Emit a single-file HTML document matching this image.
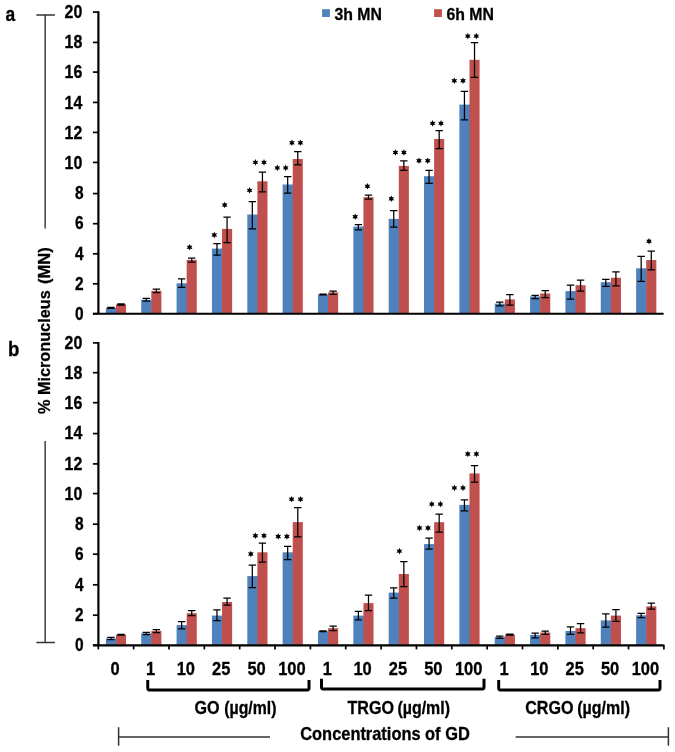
<!DOCTYPE html>
<html><head><meta charset="utf-8"><title>Micronucleus chart</title>
<style>html,body{margin:0;padding:0;background:#fff;}svg{display:block;filter:blur(0.45px);}text{font-family:"Liberation Sans",sans-serif;font-weight:bold;fill:#000;stroke:#000;stroke-width:0.3px;}</style>
</head><body>
<svg width="675" height="752" viewBox="0 0 675 752">
<rect x="0" y="0" width="675" height="752" fill="#ffffff"/>
<rect x="105.88" y="307.90" width="10.70" height="5.30" fill="#4f81bd"/>
<rect x="115.97" y="304.40" width="10.10" height="8.80" fill="#c0504d"/>
<rect x="141.22" y="299.70" width="10.70" height="13.50" fill="#4f81bd"/>
<rect x="151.32" y="290.80" width="10.10" height="22.40" fill="#c0504d"/>
<rect x="176.58" y="283.30" width="10.70" height="29.90" fill="#4f81bd"/>
<rect x="186.68" y="259.90" width="10.10" height="53.30" fill="#c0504d"/>
<rect x="211.93" y="248.60" width="10.70" height="64.60" fill="#4f81bd"/>
<rect x="222.03" y="228.90" width="10.10" height="84.30" fill="#c0504d"/>
<rect x="247.28" y="214.50" width="10.70" height="98.70" fill="#4f81bd"/>
<rect x="257.38" y="181.30" width="10.10" height="131.90" fill="#c0504d"/>
<rect x="282.62" y="184.50" width="10.70" height="128.70" fill="#4f81bd"/>
<rect x="292.73" y="159.00" width="10.10" height="154.20" fill="#c0504d"/>
<rect x="317.97" y="294.40" width="10.70" height="18.80" fill="#4f81bd"/>
<rect x="328.07" y="292.40" width="10.10" height="20.80" fill="#c0504d"/>
<rect x="353.32" y="226.60" width="10.70" height="86.60" fill="#4f81bd"/>
<rect x="363.43" y="197.20" width="10.10" height="116.00" fill="#c0504d"/>
<rect x="388.68" y="218.90" width="10.70" height="94.30" fill="#4f81bd"/>
<rect x="398.78" y="165.90" width="10.10" height="147.30" fill="#c0504d"/>
<rect x="424.02" y="176.20" width="10.70" height="137.00" fill="#4f81bd"/>
<rect x="434.12" y="139.00" width="10.10" height="174.20" fill="#c0504d"/>
<rect x="459.38" y="104.60" width="10.70" height="208.60" fill="#4f81bd"/>
<rect x="469.48" y="59.80" width="10.10" height="253.40" fill="#c0504d"/>
<rect x="494.73" y="303.60" width="10.70" height="9.60" fill="#4f81bd"/>
<rect x="504.83" y="299.40" width="10.10" height="13.80" fill="#c0504d"/>
<rect x="530.07" y="296.40" width="10.70" height="16.80" fill="#4f81bd"/>
<rect x="540.17" y="293.50" width="10.10" height="19.70" fill="#c0504d"/>
<rect x="565.42" y="291.10" width="10.70" height="22.10" fill="#4f81bd"/>
<rect x="575.52" y="285.20" width="10.10" height="28.00" fill="#c0504d"/>
<rect x="600.77" y="282.20" width="10.70" height="31.00" fill="#4f81bd"/>
<rect x="610.88" y="277.80" width="10.10" height="35.40" fill="#c0504d"/>
<rect x="636.12" y="268.30" width="10.70" height="44.90" fill="#4f81bd"/>
<rect x="646.23" y="260.00" width="10.10" height="53.20" fill="#c0504d"/>
<path d="M110.92 307.40V308.40M107.22 307.40H114.62M107.22 308.40H114.62" stroke="#000" stroke-width="1.25" fill="none"/>
<path d="M121.02 303.80V305.00M117.32 303.80H124.72M117.32 305.00H124.72" stroke="#000" stroke-width="1.25" fill="none"/>
<path d="M146.27 298.30V301.00M142.57 298.30H149.97M142.57 301.00H149.97" stroke="#000" stroke-width="1.25" fill="none"/>
<path d="M156.38 289.10V292.50M152.68 289.10H160.07M152.68 292.50H160.07" stroke="#000" stroke-width="1.25" fill="none"/>
<path d="M181.62 278.90V287.40M177.93 278.90H185.32M177.93 287.40H185.32" stroke="#000" stroke-width="1.25" fill="none"/>
<path d="M191.73 258.10V262.00M188.03 258.10H195.43M188.03 262.00H195.43" stroke="#000" stroke-width="1.25" fill="none"/>
<path d="M216.97 243.70V255.20M213.28 243.70H220.67M213.28 255.20H220.67" stroke="#000" stroke-width="1.25" fill="none"/>
<path d="M227.08 217.00V242.70M223.38 217.00H230.78M223.38 242.70H230.78" stroke="#000" stroke-width="1.25" fill="none"/>
<path d="M252.32 201.50V228.80M248.62 201.50H256.02M248.62 228.80H256.02" stroke="#000" stroke-width="1.25" fill="none"/>
<path d="M262.43 172.10V191.80M258.73 172.10H266.12M258.73 191.80H266.12" stroke="#000" stroke-width="1.25" fill="none"/>
<path d="M287.68 176.70V193.00M283.98 176.70H291.38M283.98 193.00H291.38" stroke="#000" stroke-width="1.25" fill="none"/>
<path d="M297.78 151.50V164.80M294.08 151.50H301.48M294.08 164.80H301.48" stroke="#000" stroke-width="1.25" fill="none"/>
<path d="M323.02 294.00V294.80M319.32 294.00H326.72M319.32 294.80H326.72" stroke="#000" stroke-width="1.25" fill="none"/>
<path d="M333.12 291.20V294.40M329.43 291.20H336.82M329.43 294.40H336.82" stroke="#000" stroke-width="1.25" fill="none"/>
<path d="M358.38 224.60V229.80M354.68 224.60H362.07M354.68 229.80H362.07" stroke="#000" stroke-width="1.25" fill="none"/>
<path d="M368.48 195.10V199.10M364.78 195.10H372.18M364.78 199.10H372.18" stroke="#000" stroke-width="1.25" fill="none"/>
<path d="M393.73 210.60V227.00M390.03 210.60H397.43M390.03 227.00H397.43" stroke="#000" stroke-width="1.25" fill="none"/>
<path d="M403.83 160.80V170.30M400.13 160.80H407.53M400.13 170.30H407.53" stroke="#000" stroke-width="1.25" fill="none"/>
<path d="M429.07 170.30V183.30M425.38 170.30H432.77M425.38 183.30H432.77" stroke="#000" stroke-width="1.25" fill="none"/>
<path d="M439.18 130.70V148.60M435.48 130.70H442.88M435.48 148.60H442.88" stroke="#000" stroke-width="1.25" fill="none"/>
<path d="M464.43 91.40V119.80M460.73 91.40H468.12M460.73 119.80H468.12" stroke="#000" stroke-width="1.25" fill="none"/>
<path d="M474.53 42.70V77.40M470.83 42.70H478.23M470.83 77.40H478.23" stroke="#000" stroke-width="1.25" fill="none"/>
<path d="M499.78 302.10V305.90M496.08 302.10H503.48M496.08 305.90H503.48" stroke="#000" stroke-width="1.25" fill="none"/>
<path d="M509.88 294.70V305.00M506.18 294.70H513.58M506.18 305.00H513.58" stroke="#000" stroke-width="1.25" fill="none"/>
<path d="M535.12 295.30V298.50M531.42 295.30H538.83M531.42 298.50H538.83" stroke="#000" stroke-width="1.25" fill="none"/>
<path d="M545.22 290.50V297.60M541.52 290.50H548.92M541.52 297.60H548.92" stroke="#000" stroke-width="1.25" fill="none"/>
<path d="M570.48 285.20V299.10M566.77 285.20H574.18M566.77 299.10H574.18" stroke="#000" stroke-width="1.25" fill="none"/>
<path d="M580.57 280.10V291.10M576.87 280.10H584.27M576.87 291.10H584.27" stroke="#000" stroke-width="1.25" fill="none"/>
<path d="M605.83 279.30V286.40M602.12 279.30H609.53M602.12 286.40H609.53" stroke="#000" stroke-width="1.25" fill="none"/>
<path d="M615.92 271.90V285.80M612.22 271.90H619.62M612.22 285.80H619.62" stroke="#000" stroke-width="1.25" fill="none"/>
<path d="M641.18 256.40V281.30M637.48 256.40H644.88M637.48 281.30H644.88" stroke="#000" stroke-width="1.25" fill="none"/>
<path d="M651.27 251.10V269.80M647.57 251.10H654.98M647.57 269.80H654.98" stroke="#000" stroke-width="1.25" fill="none"/>
<path d="M98.4 11.30V314.10" stroke="#000" stroke-width="2.2" fill="none"/>
<path d="M92.9 313.80H663.6" stroke="#000" stroke-width="2.1" fill="none"/>
<path d="M92.9 313.70H98.4" stroke="#000" stroke-width="1.7" fill="none"/>
<text transform="translate(83.50 320.20) scale(0.86 1)" font-size="18.0" text-anchor="end">0</text>
<path d="M92.9 283.80H98.4" stroke="#000" stroke-width="1.7" fill="none"/>
<text transform="translate(83.50 289.96) scale(0.86 1)" font-size="18.0" text-anchor="end">2</text>
<path d="M92.9 253.80H98.4" stroke="#000" stroke-width="1.7" fill="none"/>
<text transform="translate(83.50 259.72) scale(0.86 1)" font-size="18.0" text-anchor="end">4</text>
<path d="M92.9 223.70H98.4" stroke="#000" stroke-width="1.7" fill="none"/>
<text transform="translate(83.50 229.48) scale(0.86 1)" font-size="18.0" text-anchor="end">6</text>
<path d="M92.9 193.60H98.4" stroke="#000" stroke-width="1.7" fill="none"/>
<text transform="translate(83.50 199.24) scale(0.86 1)" font-size="18.0" text-anchor="end">8</text>
<path d="M92.9 162.40H98.4" stroke="#000" stroke-width="1.7" fill="none"/>
<text transform="translate(82.30 169.00) scale(0.885 1)" font-size="18.0" text-anchor="end">10</text>
<path d="M92.9 132.40H98.4" stroke="#000" stroke-width="1.7" fill="none"/>
<text transform="translate(82.30 138.76) scale(0.885 1)" font-size="18.0" text-anchor="end">12</text>
<path d="M92.9 102.40H98.4" stroke="#000" stroke-width="1.7" fill="none"/>
<text transform="translate(82.30 108.52) scale(0.885 1)" font-size="18.0" text-anchor="end">14</text>
<path d="M92.9 72.10H98.4" stroke="#000" stroke-width="1.7" fill="none"/>
<text transform="translate(82.30 78.28) scale(0.885 1)" font-size="18.0" text-anchor="end">16</text>
<path d="M92.9 42.40H98.4" stroke="#000" stroke-width="1.7" fill="none"/>
<text transform="translate(82.30 48.04) scale(0.885 1)" font-size="18.0" text-anchor="end">18</text>
<path d="M92.9 12.10H98.4" stroke="#000" stroke-width="1.7" fill="none"/>
<text transform="translate(82.30 17.80) scale(0.885 1)" font-size="18.0" text-anchor="end">20</text>
<rect x="105.88" y="638.40" width="10.70" height="6.40" fill="#4f81bd"/>
<rect x="115.97" y="634.70" width="10.10" height="10.10" fill="#c0504d"/>
<rect x="141.22" y="633.30" width="10.70" height="11.50" fill="#4f81bd"/>
<rect x="151.32" y="630.90" width="10.10" height="13.90" fill="#c0504d"/>
<rect x="176.58" y="625.10" width="10.70" height="19.70" fill="#4f81bd"/>
<rect x="186.68" y="613.20" width="10.10" height="31.60" fill="#c0504d"/>
<rect x="211.93" y="615.60" width="10.70" height="29.20" fill="#4f81bd"/>
<rect x="222.03" y="602.00" width="10.10" height="42.80" fill="#c0504d"/>
<rect x="247.28" y="576.10" width="10.70" height="68.70" fill="#4f81bd"/>
<rect x="257.38" y="552.30" width="10.10" height="92.50" fill="#c0504d"/>
<rect x="282.62" y="552.30" width="10.70" height="92.50" fill="#4f81bd"/>
<rect x="292.73" y="522.10" width="10.10" height="122.70" fill="#c0504d"/>
<rect x="317.97" y="631.20" width="10.70" height="13.60" fill="#4f81bd"/>
<rect x="328.07" y="628.20" width="10.10" height="16.60" fill="#c0504d"/>
<rect x="353.32" y="615.60" width="10.70" height="29.20" fill="#4f81bd"/>
<rect x="363.43" y="603.10" width="10.10" height="41.70" fill="#c0504d"/>
<rect x="388.68" y="592.60" width="10.70" height="52.20" fill="#4f81bd"/>
<rect x="398.78" y="574.00" width="10.10" height="70.80" fill="#c0504d"/>
<rect x="424.02" y="544.10" width="10.70" height="100.70" fill="#4f81bd"/>
<rect x="434.12" y="522.20" width="10.10" height="122.60" fill="#c0504d"/>
<rect x="459.38" y="504.90" width="10.70" height="139.90" fill="#4f81bd"/>
<rect x="469.48" y="473.40" width="10.10" height="171.40" fill="#c0504d"/>
<rect x="494.73" y="637.00" width="10.70" height="7.80" fill="#4f81bd"/>
<rect x="504.83" y="634.60" width="10.10" height="10.20" fill="#c0504d"/>
<rect x="530.07" y="634.90" width="10.70" height="9.90" fill="#4f81bd"/>
<rect x="540.17" y="632.50" width="10.10" height="12.30" fill="#c0504d"/>
<rect x="565.42" y="631.00" width="10.70" height="13.80" fill="#4f81bd"/>
<rect x="575.52" y="628.10" width="10.10" height="16.70" fill="#c0504d"/>
<rect x="600.77" y="620.40" width="10.70" height="24.40" fill="#4f81bd"/>
<rect x="610.88" y="615.60" width="10.10" height="29.20" fill="#c0504d"/>
<rect x="636.12" y="615.30" width="10.70" height="29.50" fill="#4f81bd"/>
<rect x="646.23" y="606.40" width="10.10" height="38.40" fill="#c0504d"/>
<path d="M110.92 637.40V639.50M107.22 637.40H114.62M107.22 639.50H114.62" stroke="#000" stroke-width="1.25" fill="none"/>
<path d="M121.02 634.30V635.10M117.32 634.30H124.72M117.32 635.10H124.72" stroke="#000" stroke-width="1.25" fill="none"/>
<path d="M146.27 632.30V634.70M142.57 632.30H149.97M142.57 634.70H149.97" stroke="#000" stroke-width="1.25" fill="none"/>
<path d="M156.38 629.60V632.60M152.68 629.60H160.07M152.68 632.60H160.07" stroke="#000" stroke-width="1.25" fill="none"/>
<path d="M181.62 621.70V628.90M177.93 621.70H185.32M177.93 628.90H185.32" stroke="#000" stroke-width="1.25" fill="none"/>
<path d="M191.73 610.50V615.60M188.03 610.50H195.43M188.03 615.60H195.43" stroke="#000" stroke-width="1.25" fill="none"/>
<path d="M216.97 609.80V620.70M213.28 609.80H220.67M213.28 620.70H220.67" stroke="#000" stroke-width="1.25" fill="none"/>
<path d="M227.08 598.20V605.00M223.38 598.20H230.78M223.38 605.00H230.78" stroke="#000" stroke-width="1.25" fill="none"/>
<path d="M252.32 565.20V587.70M248.62 565.20H256.02M248.62 587.70H256.02" stroke="#000" stroke-width="1.25" fill="none"/>
<path d="M262.43 543.10V562.00M258.73 543.10H266.12M258.73 562.00H266.12" stroke="#000" stroke-width="1.25" fill="none"/>
<path d="M287.68 546.30V559.60M283.98 546.30H291.38M283.98 559.60H291.38" stroke="#000" stroke-width="1.25" fill="none"/>
<path d="M297.78 507.50V536.90M294.08 507.50H301.48M294.08 536.90H301.48" stroke="#000" stroke-width="1.25" fill="none"/>
<path d="M323.02 630.90V631.50M319.32 630.90H326.72M319.32 631.50H326.72" stroke="#000" stroke-width="1.25" fill="none"/>
<path d="M333.12 626.10V630.60M329.43 626.10H336.82M329.43 630.60H336.82" stroke="#000" stroke-width="1.25" fill="none"/>
<path d="M358.38 611.40V619.80M354.68 611.40H362.07M354.68 619.80H362.07" stroke="#000" stroke-width="1.25" fill="none"/>
<path d="M368.48 595.00V610.50M364.78 595.00H372.18M364.78 610.50H372.18" stroke="#000" stroke-width="1.25" fill="none"/>
<path d="M393.73 587.80V598.00M390.03 587.80H397.43M390.03 598.00H397.43" stroke="#000" stroke-width="1.25" fill="none"/>
<path d="M403.83 561.70V586.60M400.13 561.70H407.53M400.13 586.60H407.53" stroke="#000" stroke-width="1.25" fill="none"/>
<path d="M429.07 538.10V549.20M425.38 538.10H432.77M425.38 549.20H432.77" stroke="#000" stroke-width="1.25" fill="none"/>
<path d="M439.18 514.10V532.10M435.48 514.10H442.88M435.48 532.10H442.88" stroke="#000" stroke-width="1.25" fill="none"/>
<path d="M464.43 499.80V510.80M460.73 499.80H468.12M460.73 510.80H468.12" stroke="#000" stroke-width="1.25" fill="none"/>
<path d="M474.53 465.60V482.10M470.83 465.60H478.23M470.83 482.10H478.23" stroke="#000" stroke-width="1.25" fill="none"/>
<path d="M499.78 636.10V638.40M496.08 636.10H503.48M496.08 638.40H503.48" stroke="#000" stroke-width="1.25" fill="none"/>
<path d="M509.88 634.20V635.00M506.18 634.20H513.58M506.18 635.00H513.58" stroke="#000" stroke-width="1.25" fill="none"/>
<path d="M535.12 633.10V637.90M531.42 633.10H538.83M531.42 637.90H538.83" stroke="#000" stroke-width="1.25" fill="none"/>
<path d="M545.22 631.00V634.30M541.52 631.00H548.92M541.52 634.30H548.92" stroke="#000" stroke-width="1.25" fill="none"/>
<path d="M570.48 626.90V634.30M566.77 626.90H574.18M566.77 634.30H574.18" stroke="#000" stroke-width="1.25" fill="none"/>
<path d="M580.57 623.60V632.80M576.87 623.60H584.27M576.87 632.80H584.27" stroke="#000" stroke-width="1.25" fill="none"/>
<path d="M605.83 613.90V627.20M602.12 613.90H609.53M602.12 627.20H609.53" stroke="#000" stroke-width="1.25" fill="none"/>
<path d="M615.92 609.70V621.30M612.22 609.70H619.62M612.22 621.30H619.62" stroke="#000" stroke-width="1.25" fill="none"/>
<path d="M641.18 613.30V617.70M637.48 613.30H644.88M637.48 617.70H644.88" stroke="#000" stroke-width="1.25" fill="none"/>
<path d="M651.27 603.20V609.10M647.57 603.20H654.98M647.57 609.10H654.98" stroke="#000" stroke-width="1.25" fill="none"/>
<path d="M98.4 342.10V645.70" stroke="#000" stroke-width="2.2" fill="none"/>
<path d="M92.9 645.40H663.6" stroke="#000" stroke-width="2.1" fill="none"/>
<path d="M92.9 645.20H98.4" stroke="#000" stroke-width="1.7" fill="none"/>
<text transform="translate(83.50 651.25) scale(0.86 1)" font-size="18.0" text-anchor="end">0</text>
<path d="M92.9 615.20H98.4" stroke="#000" stroke-width="1.7" fill="none"/>
<text transform="translate(83.50 620.97) scale(0.86 1)" font-size="18.0" text-anchor="end">2</text>
<path d="M92.9 584.80H98.4" stroke="#000" stroke-width="1.7" fill="none"/>
<text transform="translate(83.50 590.70) scale(0.86 1)" font-size="18.0" text-anchor="end">4</text>
<path d="M92.9 554.20H98.4" stroke="#000" stroke-width="1.7" fill="none"/>
<text transform="translate(83.50 560.42) scale(0.86 1)" font-size="18.0" text-anchor="end">6</text>
<path d="M92.9 524.20H98.4" stroke="#000" stroke-width="1.7" fill="none"/>
<text transform="translate(83.50 530.15) scale(0.86 1)" font-size="18.0" text-anchor="end">8</text>
<path d="M92.9 493.60H98.4" stroke="#000" stroke-width="1.7" fill="none"/>
<text transform="translate(82.30 499.88) scale(0.885 1)" font-size="18.0" text-anchor="end">10</text>
<path d="M92.9 463.90H98.4" stroke="#000" stroke-width="1.7" fill="none"/>
<text transform="translate(82.30 469.60) scale(0.885 1)" font-size="18.0" text-anchor="end">12</text>
<path d="M92.9 433.60H98.4" stroke="#000" stroke-width="1.7" fill="none"/>
<text transform="translate(82.30 439.32) scale(0.885 1)" font-size="18.0" text-anchor="end">14</text>
<path d="M92.9 402.70H98.4" stroke="#000" stroke-width="1.7" fill="none"/>
<text transform="translate(82.30 409.05) scale(0.885 1)" font-size="18.0" text-anchor="end">16</text>
<path d="M92.9 372.70H98.4" stroke="#000" stroke-width="1.7" fill="none"/>
<text transform="translate(82.30 378.77) scale(0.885 1)" font-size="18.0" text-anchor="end">18</text>
<path d="M92.9 342.90H98.4" stroke="#000" stroke-width="1.7" fill="none"/>
<text transform="translate(82.30 348.50) scale(0.885 1)" font-size="18.0" text-anchor="end">20</text>
<path d="M98.30 644.80V649.4" stroke="#000" stroke-width="1.7" fill="none"/>
<path d="M133.65 644.80V649.4" stroke="#000" stroke-width="1.7" fill="none"/>
<path d="M169.00 644.80V649.4" stroke="#000" stroke-width="1.7" fill="none"/>
<path d="M204.35 644.80V649.4" stroke="#000" stroke-width="1.7" fill="none"/>
<path d="M239.70 644.80V649.4" stroke="#000" stroke-width="1.7" fill="none"/>
<path d="M275.05 644.80V649.4" stroke="#000" stroke-width="1.7" fill="none"/>
<path d="M310.40 644.80V649.4" stroke="#000" stroke-width="1.7" fill="none"/>
<path d="M345.75 644.80V649.4" stroke="#000" stroke-width="1.7" fill="none"/>
<path d="M381.10 644.80V649.4" stroke="#000" stroke-width="1.7" fill="none"/>
<path d="M416.45 644.80V649.4" stroke="#000" stroke-width="1.7" fill="none"/>
<path d="M451.80 644.80V649.4" stroke="#000" stroke-width="1.7" fill="none"/>
<path d="M487.15 644.80V649.4" stroke="#000" stroke-width="1.7" fill="none"/>
<path d="M522.50 644.80V649.4" stroke="#000" stroke-width="1.7" fill="none"/>
<path d="M557.85 644.80V649.4" stroke="#000" stroke-width="1.7" fill="none"/>
<path d="M593.20 644.80V649.4" stroke="#000" stroke-width="1.7" fill="none"/>
<path d="M628.55 644.80V649.4" stroke="#000" stroke-width="1.7" fill="none"/>
<path d="M663.90 644.80V649.4" stroke="#000" stroke-width="1.7" fill="none"/>
<polygon points="189.60,244.00 190.45,245.83 192.46,245.65 191.30,247.30 192.46,248.95 190.45,248.77 189.60,250.60 188.75,248.77 186.74,248.95 187.90,247.30 186.74,245.65 188.75,245.83" fill="#000"/>
<polygon points="214.30,231.70 215.15,233.53 217.16,233.35 216.00,235.00 217.16,236.65 215.15,236.47 214.30,238.30 213.45,236.47 211.44,236.65 212.60,235.00 211.44,233.35 213.45,233.53" fill="#000"/>
<polygon points="224.70,201.70 225.55,203.53 227.56,203.35 226.40,205.00 227.56,206.65 225.55,206.47 224.70,208.30 223.85,206.47 221.84,206.65 223.00,205.00 221.84,203.35 223.85,203.53" fill="#000"/>
<polygon points="249.60,187.10 250.45,188.93 252.46,188.75 251.30,190.40 252.46,192.05 250.45,191.87 249.60,193.70 248.75,191.87 246.74,192.05 247.90,190.40 246.74,188.75 248.75,188.93" fill="#000"/>
<polygon points="255.40,159.10 256.25,160.93 258.26,160.75 257.10,162.40 258.26,164.05 256.25,163.87 255.40,165.70 254.55,163.87 252.54,164.05 253.70,162.40 252.54,160.75 254.55,160.93" fill="#000"/>
<polygon points="264.00,159.10 264.85,160.93 266.86,160.75 265.70,162.40 266.86,164.05 264.85,163.87 264.00,165.70 263.15,163.87 261.14,164.05 262.30,162.40 261.14,160.75 263.15,160.93" fill="#000"/>
<polygon points="277.30,164.60 278.15,166.43 280.16,166.25 279.00,167.90 280.16,169.55 278.15,169.37 277.30,171.20 276.45,169.37 274.44,169.55 275.60,167.90 274.44,166.25 276.45,166.43" fill="#000"/>
<polygon points="285.70,164.60 286.55,166.43 288.56,166.25 287.40,167.90 288.56,169.55 286.55,169.37 285.70,171.20 284.85,169.37 282.84,169.55 284.00,167.90 282.84,166.25 284.85,166.43" fill="#000"/>
<polygon points="291.90,139.50 292.75,141.33 294.76,141.15 293.60,142.80 294.76,144.45 292.75,144.27 291.90,146.10 291.05,144.27 289.04,144.45 290.20,142.80 289.04,141.15 291.05,141.33" fill="#000"/>
<polygon points="300.40,139.50 301.25,141.33 303.26,141.15 302.10,142.80 303.26,144.45 301.25,144.27 300.40,146.10 299.55,144.27 297.54,144.45 298.70,142.80 297.54,141.15 299.55,141.33" fill="#000"/>
<polygon points="355.20,213.40 356.05,215.23 358.06,215.05 356.90,216.70 358.06,218.35 356.05,218.17 355.20,220.00 354.35,218.17 352.34,218.35 353.50,216.70 352.34,215.05 354.35,215.23" fill="#000"/>
<polygon points="367.40,183.00 368.25,184.83 370.26,184.65 369.10,186.30 370.26,187.95 368.25,187.77 367.40,189.60 366.55,187.77 364.54,187.95 365.70,186.30 364.54,184.65 366.55,184.83" fill="#000"/>
<polygon points="391.30,195.50 392.15,197.33 394.16,197.15 393.00,198.80 394.16,200.45 392.15,200.27 391.30,202.10 390.45,200.27 388.44,200.45 389.60,198.80 388.44,197.15 390.45,197.33" fill="#000"/>
<polygon points="395.40,149.20 396.25,151.03 398.26,150.85 397.10,152.50 398.26,154.15 396.25,153.97 395.40,155.80 394.55,153.97 392.54,154.15 393.70,152.50 392.54,150.85 394.55,151.03" fill="#000"/>
<polygon points="403.90,149.20 404.75,151.03 406.76,150.85 405.60,152.50 406.76,154.15 404.75,153.97 403.90,155.80 403.05,153.97 401.04,154.15 402.20,152.50 401.04,150.85 403.05,151.03" fill="#000"/>
<polygon points="419.00,157.40 419.85,159.23 421.86,159.05 420.70,160.70 421.86,162.35 419.85,162.17 419.00,164.00 418.15,162.17 416.14,162.35 417.30,160.70 416.14,159.05 418.15,159.23" fill="#000"/>
<polygon points="427.70,157.40 428.55,159.23 430.56,159.05 429.40,160.70 430.56,162.35 428.55,162.17 427.70,164.00 426.85,162.17 424.84,162.35 426.00,160.70 424.84,159.05 426.85,159.23" fill="#000"/>
<polygon points="432.60,120.10 433.45,121.93 435.46,121.75 434.30,123.40 435.46,125.05 433.45,124.87 432.60,126.70 431.75,124.87 429.74,125.05 430.90,123.40 429.74,121.75 431.75,121.93" fill="#000"/>
<polygon points="441.00,120.10 441.85,121.93 443.86,121.75 442.70,123.40 443.86,125.05 441.85,124.87 441.00,126.70 440.15,124.87 438.14,125.05 439.30,123.40 438.14,121.75 440.15,121.93" fill="#000"/>
<polygon points="454.30,77.40 455.15,79.23 457.16,79.05 456.00,80.70 457.16,82.35 455.15,82.17 454.30,84.00 453.45,82.17 451.44,82.35 452.60,80.70 451.44,79.05 453.45,79.23" fill="#000"/>
<polygon points="463.00,77.40 463.85,79.23 465.86,79.05 464.70,80.70 465.86,82.35 463.85,82.17 463.00,84.00 462.15,82.17 460.14,82.35 461.30,80.70 460.14,79.05 462.15,79.23" fill="#000"/>
<polygon points="467.80,32.80 468.65,34.63 470.66,34.45 469.50,36.10 470.66,37.75 468.65,37.57 467.80,39.40 466.95,37.57 464.94,37.75 466.10,36.10 464.94,34.45 466.95,34.63" fill="#000"/>
<polygon points="476.30,32.80 477.15,34.63 479.16,34.45 478.00,36.10 479.16,37.75 477.15,37.57 476.30,39.40 475.45,37.57 473.44,37.75 474.60,36.10 473.44,34.45 475.45,34.63" fill="#000"/>
<polygon points="649.00,238.00 649.85,239.83 651.86,239.65 650.70,241.30 651.86,242.95 649.85,242.77 649.00,244.60 648.15,242.77 646.14,242.95 647.30,241.30 646.14,239.65 648.15,239.83" fill="#000"/>
<polygon points="250.80,550.70 251.65,552.53 253.66,552.35 252.50,554.00 253.66,555.65 251.65,555.47 250.80,557.30 249.95,555.47 247.94,555.65 249.10,554.00 247.94,552.35 249.95,552.53" fill="#000"/>
<polygon points="255.40,532.40 256.25,534.23 258.26,534.05 257.10,535.70 258.26,537.35 256.25,537.17 255.40,539.00 254.55,537.17 252.54,537.35 253.70,535.70 252.54,534.05 254.55,534.23" fill="#000"/>
<polygon points="264.00,532.40 264.85,534.23 266.86,534.05 265.70,535.70 266.86,537.35 264.85,537.17 264.00,539.00 263.15,537.17 261.14,537.35 262.30,535.70 261.14,534.05 263.15,534.23" fill="#000"/>
<polygon points="278.20,533.20 279.05,535.03 281.06,534.85 279.90,536.50 281.06,538.15 279.05,537.97 278.20,539.80 277.35,537.97 275.34,538.15 276.50,536.50 275.34,534.85 277.35,535.03" fill="#000"/>
<polygon points="286.90,533.20 287.75,535.03 289.76,534.85 288.60,536.50 289.76,538.15 287.75,537.97 286.90,539.80 286.05,537.97 284.04,538.15 285.20,536.50 284.04,534.85 286.05,535.03" fill="#000"/>
<polygon points="291.60,495.90 292.45,497.73 294.46,497.55 293.30,499.20 294.46,500.85 292.45,500.67 291.60,502.50 290.75,500.67 288.74,500.85 289.90,499.20 288.74,497.55 290.75,497.73" fill="#000"/>
<polygon points="300.50,495.90 301.35,497.73 303.36,497.55 302.20,499.20 303.36,500.85 301.35,500.67 300.50,502.50 299.65,500.67 297.64,500.85 298.80,499.20 297.64,497.55 299.65,497.73" fill="#000"/>
<polygon points="399.40,547.80 400.25,549.63 402.26,549.45 401.10,551.10 402.26,552.75 400.25,552.57 399.40,554.40 398.55,552.57 396.54,552.75 397.70,551.10 396.54,549.45 398.55,549.63" fill="#000"/>
<polygon points="419.50,524.70 420.35,526.53 422.36,526.35 421.20,528.00 422.36,529.65 420.35,529.47 419.50,531.30 418.65,529.47 416.64,529.65 417.80,528.00 416.64,526.35 418.65,526.53" fill="#000"/>
<polygon points="428.00,524.70 428.85,526.53 430.86,526.35 429.70,528.00 430.86,529.65 428.85,529.47 428.00,531.30 427.15,529.47 425.14,529.65 426.30,528.00 425.14,526.35 427.15,526.53" fill="#000"/>
<polygon points="431.80,500.80 432.65,502.63 434.66,502.45 433.50,504.10 434.66,505.75 432.65,505.57 431.80,507.40 430.95,505.57 428.94,505.75 430.10,504.10 428.94,502.45 430.95,502.63" fill="#000"/>
<polygon points="440.40,500.80 441.25,502.63 443.26,502.45 442.10,504.10 443.26,505.75 441.25,505.57 440.40,507.40 439.55,505.57 437.54,505.75 438.70,504.10 437.54,502.45 439.55,502.63" fill="#000"/>
<polygon points="454.40,484.60 455.25,486.43 457.26,486.25 456.10,487.90 457.26,489.55 455.25,489.37 454.40,491.20 453.55,489.37 451.54,489.55 452.70,487.90 451.54,486.25 453.55,486.43" fill="#000"/>
<polygon points="463.00,484.60 463.85,486.43 465.86,486.25 464.70,487.90 465.86,489.55 463.85,489.37 463.00,491.20 462.15,489.37 460.14,489.55 461.30,487.90 460.14,486.25 462.15,486.43" fill="#000"/>
<polygon points="467.80,450.70 468.65,452.53 470.66,452.35 469.50,454.00 470.66,455.65 468.65,455.47 467.80,457.30 466.95,455.47 464.94,455.65 466.10,454.00 464.94,452.35 466.95,452.53" fill="#000"/>
<polygon points="476.40,450.70 477.25,452.53 479.26,452.35 478.10,454.00 479.26,455.65 477.25,455.47 476.40,457.30 475.55,455.47 473.54,455.65 474.70,454.00 473.54,452.35 475.55,452.53" fill="#000"/>
<rect x="322.1" y="9.2" width="7.8" height="7.8" fill="#4f81bd"/>
<text transform="translate(334.40 19.90) scale(0.917 1)" font-size="17.3" text-anchor="start">3h MN</text>
<rect x="434.1" y="9.2" width="7.8" height="7.8" fill="#c0504d"/>
<text transform="translate(446.40 19.90) scale(0.917 1)" font-size="17.3" text-anchor="start">6h MN</text>
<text transform="translate(5.60 20.90) scale(0.87 1)" font-size="20" text-anchor="start">a</text>
<text transform="translate(7.90 356.00) scale(0.93 1)" font-size="20" text-anchor="start">b</text>
<text transform="translate(49.90 414.05) rotate(-90) scale(0.962 1)" font-size="16.9" text-anchor="start">% Micronucleus</text>
<text transform="translate(49.90 247.30) rotate(-90) scale(0.98 1)" font-size="16.9" text-anchor="end">(MN)</text>
<path d="M36.4 15H54.9M45.15 15V228.5M45.15 441V642.5M36.4 642.5H54.9" stroke="#333" stroke-width="1.4" fill="none"/>
<text transform="translate(115.17 674.50) scale(0.925 1)" font-size="17.8" text-anchor="middle">0</text>
<text transform="translate(150.52 674.50) scale(0.925 1)" font-size="17.8" text-anchor="middle">1</text>
<text transform="translate(185.88 674.50) scale(0.925 1)" font-size="17.8" text-anchor="middle">10</text>
<text transform="translate(221.22 674.50) scale(0.925 1)" font-size="17.8" text-anchor="middle">25</text>
<text transform="translate(256.57 674.50) scale(0.925 1)" font-size="17.8" text-anchor="middle">50</text>
<text transform="translate(291.93 674.50) scale(0.925 1)" font-size="17.8" text-anchor="middle">100</text>
<text transform="translate(327.27 674.50) scale(0.925 1)" font-size="17.8" text-anchor="middle">1</text>
<text transform="translate(362.62 674.50) scale(0.925 1)" font-size="17.8" text-anchor="middle">10</text>
<text transform="translate(397.98 674.50) scale(0.925 1)" font-size="17.8" text-anchor="middle">25</text>
<text transform="translate(433.32 674.50) scale(0.925 1)" font-size="17.8" text-anchor="middle">50</text>
<text transform="translate(468.68 674.50) scale(0.925 1)" font-size="17.8" text-anchor="middle">100</text>
<text transform="translate(504.03 674.50) scale(0.925 1)" font-size="17.8" text-anchor="middle">1</text>
<text transform="translate(539.38 674.50) scale(0.925 1)" font-size="17.8" text-anchor="middle">10</text>
<text transform="translate(574.73 674.50) scale(0.925 1)" font-size="17.8" text-anchor="middle">25</text>
<text transform="translate(610.08 674.50) scale(0.925 1)" font-size="17.8" text-anchor="middle">50</text>
<text transform="translate(645.43 674.50) scale(0.925 1)" font-size="17.8" text-anchor="middle">100</text>
<path d="M147.75 679.90V688.35Q147.75 689.95 149.35 689.95H307.4Q309.0 689.95 309.0 688.35V679.90" stroke="#000" stroke-width="3.0" fill="none"/>
<path d="M321.5 678.85V687.30Q321.5 688.90 323.1 688.90H482.4Q484.0 688.90 484.0 687.30V678.85" stroke="#000" stroke-width="3.0" fill="none"/>
<path d="M498.7 679.90V688.35Q498.7 689.95 500.3 689.95H658.4Q660.0 689.95 660.0 688.35V679.90" stroke="#000" stroke-width="3.0" fill="none"/>
<text transform="translate(219.50 713.70) scale(0.885 1)" font-size="18.2" text-anchor="end">GO</text>
<text transform="translate(224.30 713.70) scale(0.87 1)" font-size="18.2" text-anchor="start">(µg/ml)</text>
<text transform="translate(393.95 713.70) scale(0.885 1)" font-size="18.2" text-anchor="end">TRGO</text>
<text transform="translate(397.50 713.70) scale(0.875 1)" font-size="18.2" text-anchor="start">(µg/ml)</text>
<text transform="translate(573.45 713.70) scale(0.885 1)" font-size="18.2" text-anchor="end">CRGO</text>
<text transform="translate(577.30 713.70) scale(0.878 1)" font-size="18.2" text-anchor="start">(µg/ml)</text>
<text transform="translate(385.00 740.10) scale(0.938 1)" font-size="17.5" text-anchor="middle">Concentrations of GD</text>
<path d="M118.6 727.3V745.8M118.6 736.95H270M515.6 736.95H668.4M668.4 727.3V745.8" stroke="#333" stroke-width="1.5" fill="none"/>
</svg></body></html>
